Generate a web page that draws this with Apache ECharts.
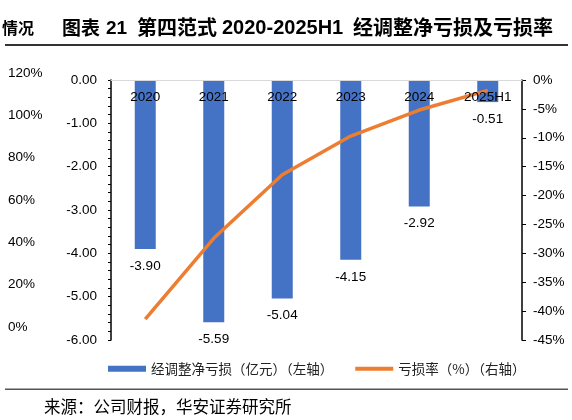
<!DOCTYPE html>
<html>
<head>
<meta charset="utf-8">
<script src="https://cdn.jsdelivr.net/npm/echarts@6/dist/echarts.min.js"></script>
<style>
  html, body { margin: 0; padding: 0; background: #fff; }
  #main { width: 572px; height: 420px; }
</style>
</head>
<body>
<div id="main"></div>
<script>
// data
const years = ['2020', '2021', '2022', '2023', '2024', '2025H1'];
const netLoss = [-3.90, -5.59, -5.04, -4.15, -2.92, -0.51];   // 亿元, left axis
const lossRate = [-41.4, -27.4, -16.4, -9.7, -5.2, -1.8];     // %, right axis
// the cut-off axis of the neighbouring chart on the left edge
const sideTicks = [0, 20, 40, 60, 80, 100, 120];

const cjk = '"Noto Sans CJK SC", sans-serif';
const latin = '"Liberation Sans", Arial, sans-serif';

let myChart = echarts.init(document.getElementById('main'));

let option = {
  backgroundColor: '#fff',
  animation: false,
  textStyle: { fontFamily: latin },
  grid: [
    { left: 111, right: 50, top: 80, bottom: 80 },
    { left: 50, width: 1, top: 73, bottom: 93 }
  ],
  legend: {
    top: 357,
    left: 103,
    itemWidth: 38,
    itemHeight: 6,
    itemGap: 22,
    textStyle: { fontFamily: cjk, fontSize: 13.5, color: '#222' },
    data: [
      { name: '经调整净亏损（亿元）（左轴）', icon: 'path://M0,0H38V6H0Z' },
      { name: '亏损率（%）（右轴）', icon: 'path://M0,0H40V4H0Z' }
    ]
  },
  xAxis: [
    {
      type: 'category',
      data: years,
      gridIndex: 0,
      position: 'top',
      z: 10,
      axisLine: { lineStyle: { color: '#d9d9d9', width: 1 } },
      axisTick: { show: false },
      axisLabel: { inside: true, color: '#000', fontSize: 13.5, margin: 10 }
    },
    { type: 'category', gridIndex: 1, show: false, data: ['x'] }
  ],
  yAxis: [
    {
      type: 'value',
      gridIndex: 0,
      min: -6,
      max: 0,
      interval: 1,
      splitLine: { show: false },
      axisLine: { show: true, lineStyle: { color: '#000', width: 1.5 } },
      axisTick: { show: true, length: 3, lineStyle: { color: '#000' } },
      minorTick: { show: true, splitNumber: 5, length: 3, lineStyle: { color: '#000' } },
      axisLabel: {
        color: '#000', fontSize: 13.5, margin: 14,
        formatter: v => v.toFixed(2)
      }
    },
    {
      type: 'value',
      gridIndex: 0,
      position: 'right',
      min: -45,
      max: 0,
      interval: 5,
      splitLine: { show: false },
      axisLine: { show: true, lineStyle: { color: '#000', width: 1.5 } },
      axisTick: { show: true, length: 4, lineStyle: { color: '#000' } },
      axisLabel: { color: '#000', fontSize: 13.5, margin: 11, formatter: '{value}%' }
    },
    {
      type: 'value',
      gridIndex: 1,
      min: sideTicks[0],
      max: sideTicks[sideTicks.length - 1],
      interval: 20,
      splitLine: { show: false },
      axisLine: { show: false },
      axisTick: { show: false },
      axisLabel: { color: '#000', fontSize: 13.5, margin: 42, align: 'left', formatter: '{value}%' }
    }
  ],
  series: [
    {
      name: '经调整净亏损（亿元）（左轴）',
      type: 'bar',
      data: netLoss,
      barWidth: 21,
      itemStyle: { color: '#4472C4' },
      label: {
        show: true,
        position: 'bottom',
        distance: 10,
        color: '#000',
        fontSize: 13.5,
        formatter: p => p.value.toFixed(2)
      }
    },
    {
      name: '亏损率（%）（右轴）',
      type: 'line',
      yAxisIndex: 1,
      data: lossRate,
      showSymbol: false,
      symbol: 'none',
      lineStyle: { color: '#ED7D31', width: 3.5 },
      itemStyle: { color: '#ED7D31' },
      z: 3
    }
  ],
  graphic: [
    {
      type: 'text', left: 2, top: 20,
      style: { text: '情况', font: 'bold 16px ' + cjk, fill: '#000' }
    },
    {
      type: 'text', left: 62, top: 18,
      style: { text: '图表', font: 'bold 19px ' + cjk, fill: '#000' }
    },
    {
      type: 'text', left: 106, top: 19,
      style: { text: '21', font: 'bold 19px ' + latin, fill: '#000' }
    },
    {
      type: 'text', left: 137, top: 17,
      style: { text: '第四范式', font: 'bold 20px ' + cjk, fill: '#000' }
    },
    {
      type: 'text', left: 222, top: 18,
      style: { text: '2020-2025H1', font: 'bold 20px ' + latin, fill: '#000' }
    },
    {
      type: 'text', left: 353, top: 17,
      style: { text: '经调整净亏损及亏损率', font: 'bold 20px ' + cjk, fill: '#000' }
    },
    {
      type: 'rect', shape: { x: 5, y: 44, width: 563, height: 2 },
      style: { fill: '#333' }
    },
    {
      type: 'rect', shape: { x: 5, y: 388.5, width: 563, height: 1.5 },
      style: { fill: '#555' }
    },
    {
      type: 'text', left: 44, top: 398,
      style: { text: '来源：公司财报，华安证券研究所', font: '16.5px ' + cjk, fill: '#000' }
    }
  ]
};

myChart.setOption(option);
</script>
</body>
</html>
